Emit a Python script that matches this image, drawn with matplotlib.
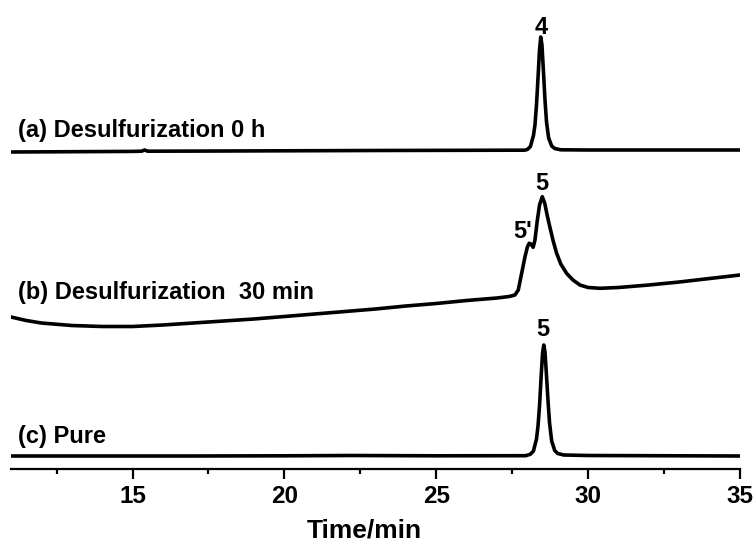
import matplotlib
matplotlib.use("Agg")
import matplotlib.pyplot as plt
from matplotlib.ticker import MultipleLocator

plt.rcParams['font.family'] = ['Liberation Sans', 'DejaVu Sans']
plt.rcParams['font.weight'] = 'bold'

# ---- data (signal, arbitrary units) ----
# (a) Desulfurization 0 h : peak 4
time_a = [11.0, 13.0, 15.0, 15.3, 15.4, 15.5, 17.0, 20.0, 23.0, 26.0, 27.5, 27.9, 28.0, 28.1, 28.2, 28.25,
          28.3, 28.35, 28.4, 28.44, 28.48, 28.53, 28.58, 28.63, 28.7, 28.8, 28.9, 29.1, 30.0, 32.0, 35.0]
sig_a = [0.0, 0.3, 0.6, 0.8, 2.0, 0.8, 0.9, 1.2, 1.5, 1.7, 1.8, 1.8, 2.5, 5.5, 16.5, 27.0,
         47.0, 74.0, 102.0, 115.0, 107.0, 80.0, 52.0, 30.0, 14.0, 6.0, 3.5, 2.2, 2.0, 2.0, 2.0]

# (b) Desulfurization 30 min : peaks 5' and 5 on a drifting baseline
time_b = [11.0, 11.5, 12.0, 13.0, 14.0, 15.0, 16.0, 17.0, 18.0, 19.0, 20.0, 21.0, 22.0, 23.0, 24.0,
          25.0, 26.0, 27.0, 27.4, 27.59, 27.7, 27.8, 27.92, 28.0, 28.06, 28.12, 28.19, 28.25, 28.32,
          28.4, 28.49, 28.57, 28.65, 28.74, 28.85, 28.96, 29.1, 29.29, 29.5, 29.73, 30.0, 30.39,
          31.0, 32.0, 33.0, 34.0, 35.0]
sig_b = [152.0, 148.5, 146.0, 143.5, 142.5, 142.5, 144.0, 146.0, 148.0, 150.0, 152.5, 155.0, 157.5,
         160.0, 163.0, 165.5, 168.5, 171.0, 172.5, 174.0, 179.0, 194.0, 212.0, 222.0, 225.7, 225.0,
         221.7, 229.0, 247.0, 264.0, 272.3, 266.0, 254.0, 242.0, 228.0, 216.0, 205.0, 195.7, 189.0,
         184.0, 181.5, 180.7, 181.5, 184.0, 187.0, 190.5, 194.0]

# (c) Pure : peak 5
time_c = [11.0, 14.0, 17.0, 20.0, 22.2, 25.0, 27.95, 28.1, 28.2, 28.3, 28.35, 28.4, 28.45, 28.5,
          28.54, 28.58, 28.63, 28.68, 28.73, 28.8, 28.9, 29.0, 29.2, 30.0, 32.0, 35.0]
sig_c = [0.0, 0.0, 0.0, 0.2, 0.5, 0.2, 0.3, 1.8, 5.0, 17.0, 30.0, 50.0, 78.0, 103.0,
         111.0, 104.0, 80.0, 55.0, 33.0, 15.0, 5.5, 2.5, 1.0, 0.5, 0.3, 0.0]

offset_a = 317.0
offset_b = 0.0
offset_c = 13.0

trace_labels = ["(a) Desulfurization 0 h", "(b) Desulfurization  30 min", "(c) Pure"]
peak_labels = ["4", "5'", "5", "5"]

xticks_major = [15, 20, 25, 30, 35]

# ---- figure ----
fig = plt.figure(figsize=(7.55, 5.42), dpi=100)
ax = fig.add_axes([11 / 755, 1 - 469 / 542, (740 - 11) / 755, 469 / 542])

lw = 2.6
ax.plot(time_a, [v + offset_a for v in sig_a], color='black', lw=lw, solid_joinstyle='round')
ax.plot(time_b, [v + offset_b for v in sig_b], color='black', lw=lw, solid_joinstyle='round')
ax.plot(time_c, [v + offset_c for v in sig_c], color='black', lw=lw, solid_joinstyle='round')

ax.set_xlim(11, 35)
ax.set_ylim(0, 469)

for s in ['top', 'left', 'right']:
    ax.spines[s].set_visible(False)
ax.spines['bottom'].set_linewidth(1.6)
ax.set_yticks([])
ax.set_xticks(xticks_major)
ax.xaxis.set_minor_locator(MultipleLocator(2.5))
ax.tick_params(axis='x', which='major', direction='out', length=7.5, width=1.6,
               labelsize=17.5, pad=4)
ax.tick_params(axis='x', which='minor', direction='out', length=3.8, width=1.6)
for lab in ax.get_xticklabels():
    lab.set_fontweight('bold')
ax.set_xlabel("Time/min", fontsize=19, fontweight='bold')
ax.xaxis.set_label_coords((364 - 11) / 729, -(530 - 469) / 469)
ax.xaxis.label.set_va('center')

fs = 17
ax.text(11.23, 339, trace_labels[0], fontsize=fs, fontweight='bold', va='center', ha='left')
ax.text(11.23, 176, trace_labels[1], fontsize=fs, fontweight='bold', va='center', ha='left')
ax.text(11.23, 33, trace_labels[2], fontsize=fs, fontweight='bold', va='center', ha='left')

ax.text(28.44, 442, peak_labels[0], fontsize=fs, fontweight='bold', va='center', ha='center')
ax.text(27.85, 237, peak_labels[1], fontsize=fs, fontweight='bold', va='center', ha='center')
ax.text(28.47, 286, peak_labels[2], fontsize=fs, fontweight='bold', va='center', ha='center')
ax.text(28.51, 139, peak_labels[3], fontsize=fs, fontweight='bold', va='center', ha='center')

fig.savefig("out.png", dpi=100)
